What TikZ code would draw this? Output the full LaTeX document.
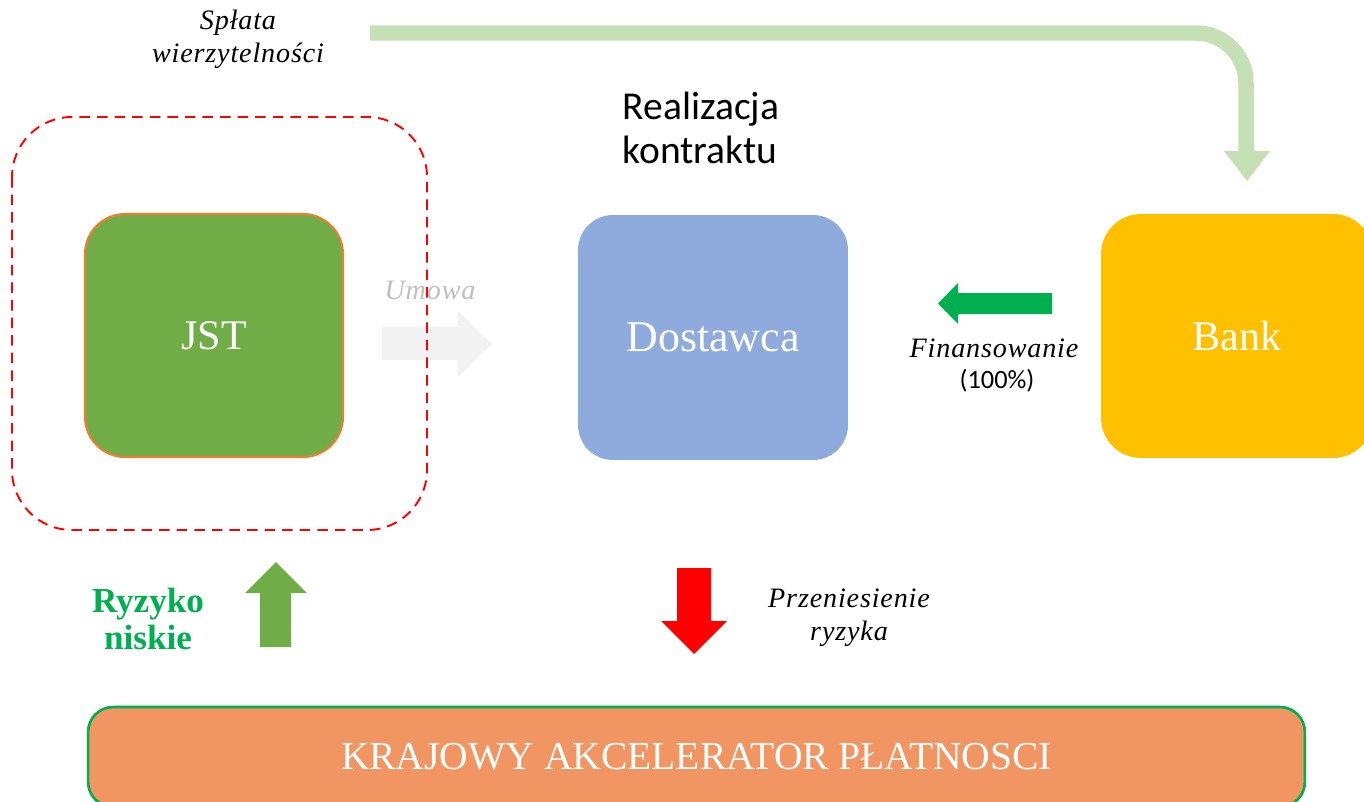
\documentclass[tikz,border=0pt]{standalone}
\usepackage{fontspec}
\setmainfont{Liberation Serif}
\newfontfamily\calibri{Carlito}
\newfontfamily\notefont[LetterSpace=3]{Liberation Serif}
\definecolor{jstgreen}{HTML}{70AD47}
\definecolor{jstedge}{HTML}{ED7D31}
\definecolor{dostblue}{HTML}{8FAADC}
\definecolor{bankyellow}{HTML}{FFC000}
\definecolor{kapfill}{HTML}{F19562}
\definecolor{kapedge}{HTML}{00B050}
\definecolor{topgreen}{HTML}{C5E0B4}
\definecolor{umowagray}{HTML}{F2F2F2}
\definecolor{umowatext}{HTML}{BFBFBF}
\definecolor{fingreen}{HTML}{00B050}
\begin{document}
\begin{tikzpicture}[
					x = 0.02cm, y = -0.02cm,
					box/.style = {rounded corners = 0.8cm, text = white, inner sep = 0pt,
						minimum width = 5.3cm, minimum height = 4.88cm,
						font = \fontsize{24}{30}\selectfont},
					note/.style = {align = center, font = \notefont\fontsize{16}{18.7}\selectfont\itshape},
					]
					\useasboundingbox (0,0) rectangle (1364,801);
					\clip (0,0) rectangle (1364,801);

					% boxes
					\node[box, fill = jstgreen, draw = jstedge, line width = 1.2pt, minimum width = 5.16cm, minimum height = 4.86cm] (jst) at (214,335.5) {JST};
					\node[box, fill = dostblue, rounded corners = 0.7cm, minimum width = 5.4cm, minimum height = 4.9cm, font = \fontsize{25}{30}\selectfont] (dostawca) at (713,337.5) {Dostawca};
					\node[box, fill = bankyellow, minimum width = 5.44cm] (bank) at (1237,336) {Bank};
					\node[box, fill = kapfill, draw = kapedge, line width = 1.5pt, rounded corners = 0.5cm, minimum width = 24.34cm, minimum height = 2cm, font = \fontsize{22.5}{27}\selectfont] (kap) at (696.5,757) {KRAJOWY AKCELERATOR PŁATNOSCI};

					% repayment arrow
					\draw[topgreen, line width = 0.31cm, rounded corners = 1cm] (370,33) -| (1246,152);
					\fill[topgreen] (1224,151) -- (1270,151) -- (1247,181) -- cycle;
					\node[note] (splata) at (238,39) {Spłata\\wierzytelności};

					\node[align = left, font = \calibri\fontsize{22.5}{25}\selectfont] (realizacja) at (701,128) {Realizacja\\kontraktu};

					% contract arrow
					\fill[umowagray] (382,327) -- (458,327) -- (458,311) -- (492,344) -- (458,377) -- (458,360) -- (382,360) -- cycle;
					\node[note, text = umowatext] (umowa) at (430,290) {Umowa};

					% risk zone
					\draw[red, dashed, line width = 1.1pt, dash pattern = on 6pt off 4pt, rounded corners = 1.2cm] (12,117) rectangle (427,530);

					% financing arrow
					\fill[fingreen] (1052,293) -- (958,293) -- (958,283) -- (938,303.5) -- (958,324) -- (958,314) -- (1052,314) -- cycle;
					\node[note] (finans) at (994,348) {Finansowanie};
					\node[font = \calibri\fontsize{15}{18}\selectfont] (procent) at (997,381) {(100\%)};

					% risk arrows
					\fill[jstgreen] (260,647) -- (260,593) -- (245,593) -- (276,562) -- (307,593) -- (291,593) -- (291,647) -- cycle;
					\node[align = center, text = fingreen, font = \fontsize{20}{21.5}\selectfont\bfseries] (ryzyko) at (148,619) {Ryzyko\\niskie};

					\fill[red] (677,568) -- (711,568) -- (711,621) -- (727,621) -- (694,654) -- (661,621) -- (677,621) -- cycle;
					\node[note] (przeniesienie) at (849,618) {Przeniesienie\\ryzyka};

				\end{tikzpicture}
\end{document}
